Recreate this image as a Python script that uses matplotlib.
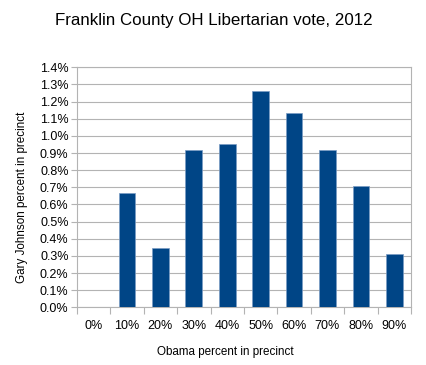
import matplotlib
matplotlib.use("Agg")
import matplotlib.pyplot as plt
import numpy as np
from matplotlib.ticker import FixedLocator

categories = ["0%", "10%", "20%", "30%", "40%", "50%", "60%", "70%", "80%", "90%"]
values = [0.0, 0.665, 0.348, 0.920, 0.951, 1.262, 1.134, 0.918, 0.709, 0.311]
yticks = [i / 10 for i in range(15)]
ytick_labels = [f"{v:.1f}%" for v in yticks]

plt.rcParams['font.family'] = ['Liberation Sans', 'DejaVu Sans']

W, H = 427, 365
fig = plt.figure(figsize=(W / 100, H / 100), dpi=100)
ax = fig.add_axes([0.18, 0.158, 0.7825, 0.6576])

x = np.arange(len(categories))
ax.bar(x, values, width=0.5, color="#004586", edgecolor="#7a9cc4", linewidth=0.5, zorder=3)

ax.set_xlim(-0.5, len(categories) - 0.5)
ax.set_ylim(0, 1.4)
ax.set_yticks(yticks)
ax.set_yticklabels(ytick_labels, fontsize=9)
ax.yaxis.grid(True, color="#b3b3b3", linewidth=0.8, zorder=0)

ax.set_xticks(x)
ax.set_xticklabels(categories, fontsize=9)
ax.tick_params(axis='x', which='major', length=0, pad=9)
ax.xaxis.set_minor_locator(FixedLocator(np.arange(-0.5, len(categories), 1.0)))
ax.tick_params(axis='x', which='minor', length=5, color="#b3b3b3", width=0.8)
ax.tick_params(axis='y', length=4, color="#b3b3b3", width=0.8, pad=2)

for s in ax.spines.values():
    s.set_color("#b3b3b3")
    s.set_linewidth(0.8)

fig.text(225 / W, 1 - 352 / H, "Obama percent in precinct", ha="center", va="center", fontsize=8.4)
fig.text(22 / W, 1 - 197.5 / H, "Gary Johnson percent in precinct", ha="center", va="center",
         rotation=90, fontsize=8.4)
fig.text(213.5 / W, 1 - 20 / H, "Franklin County OH Libertarian vote, 2012", ha="center", va="center", fontsize=12.2)

fig.savefig("out.png", dpi=100)
